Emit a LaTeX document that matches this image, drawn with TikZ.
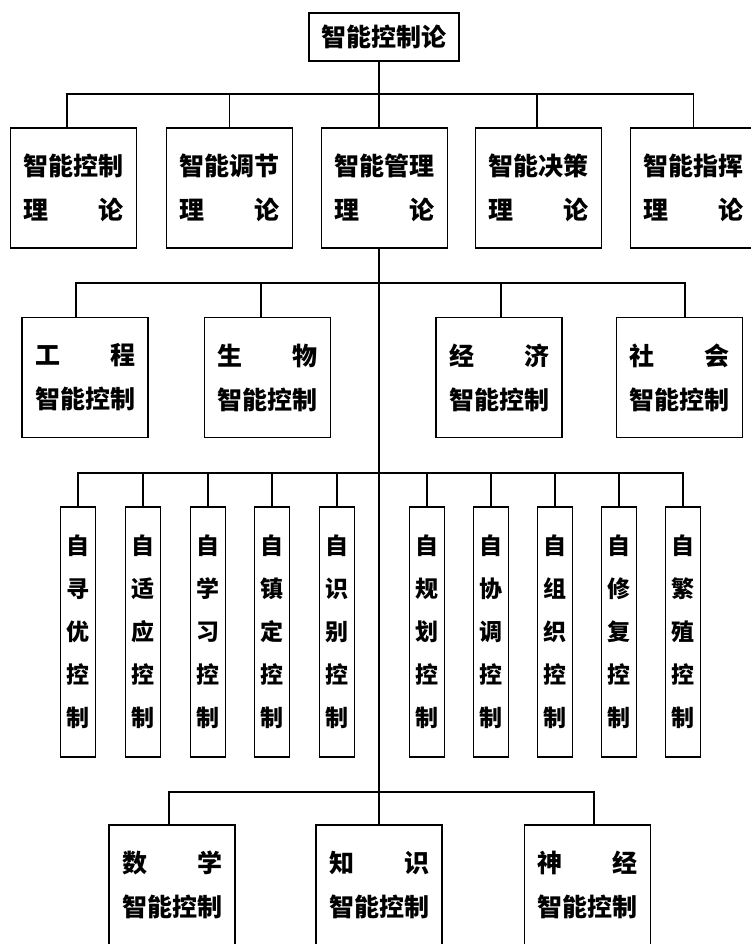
\documentclass[tikz,border=0pt]{standalone}
\usepackage{fontspec}
\newfontfamily\cjk{Noto Sans CJK SC}
\newcommand\spreadtwo[2]{\makebox[100pt]{#1\hfill#2}}
\begin{document}
\begin{tikzpicture}[x=1pt,y=-1pt,
  ln/.style={line width=1.5pt},
  rootbox/.style={draw,line width=1.5pt,inner sep=0pt,minimum width=150pt,minimum height=48pt,
    font=\cjk\bfseries\fontsize{25}{30}\selectfont},
  box/.style={draw,line width=1.5pt,inner sep=0pt,minimum width=126pt,minimum height=120pt,
    align=center,font=\cjk\bfseries\fontsize{25}{44}\selectfont},
  vbox/.style={draw,line width=1.5pt,inner sep=0pt,minimum width=35pt,minimum height=250pt,
    align=center,font=\cjk\bfseries\fontsize{23}{43}\selectfont}]
\useasboundingbox (0,0) rectangle (751,944);
\clip (0,0) rectangle (751,944);

% root
\node[rootbox] (root) at (384,37) {智能控制论};

% level 1
\node[box] (a1) at (73.5,188) {智能控制\\\spreadtwo{理}{论}};
\node[box] (a2) at (229.5,188) {智能调节\\\spreadtwo{理}{论}};
\node[box] (a3) at (384.5,188) {智能管理\\\spreadtwo{理}{论}};
\node[box] (a4) at (538.5,188) {智能决策\\\spreadtwo{理}{论}};
\node[box] (a5) at (693.5,188) {智能指挥\\\spreadtwo{理}{论}};

\coordinate (j1) at (379,94);
\coordinate (j2) at (379,283);
\coordinate (j3) at (379,473);
\coordinate (j4) at (379,792);

\draw[ln] ([xshift=-5pt]root.south) -- (j1);
\draw[ln] ([xshift=-6.5pt]a1.north) |- (j1);
\draw[ln] (a2.north) |- (j1);
\draw[ln] (j1) -- ([xshift=-5.5pt]a3.north);
\draw[ln] ([xshift=-1.5pt]a4.north) |- (j1);
\draw[ln] (a5.north) |- (j1);

% trunk
\draw[ln] ([xshift=-5.5pt]a3.south) -- (j4);

% level 2
\node[box] (c1) at (85,377.5) {\spreadtwo{工}{程}\\智能控制};
\node[box] (c2) at (267.5,377.5) {\spreadtwo{生}{物}\\智能控制};
\node[box] (c3) at (499,377.5) {\spreadtwo{经}{济}\\智能控制};
\node[box] (c4) at (679.5,377.5) {\spreadtwo{社}{会}\\智能控制};

\draw[ln] ([xshift=-9pt]c1.north) |- (j2);
\draw[ln] ([xshift=-6.5pt]c2.north) |- (j2);
\draw[ln] ([xshift=2pt]c3.north) |- (j2);
\draw[ln] ([xshift=5.5pt]c4.north) |- (j2);

% level 3
\node[vbox] (d1) at (78,632) {自\\寻\\优\\控\\制};
\node[vbox] (d2) at (143,632) {自\\适\\应\\控\\制};
\node[vbox] (d3) at (208,632) {自\\学\\习\\控\\制};
\node[vbox] (d4) at (272,632) {自\\镇\\定\\控\\制};
\node[vbox] (d5) at (337,632) {自\\识\\别\\控\\制};
\node[vbox] (d6) at (427,632) {自\\规\\划\\控\\制};
\node[vbox] (d7) at (491,632) {自\\协\\调\\控\\制};
\node[vbox] (d8) at (555,632) {自\\组\\织\\控\\制};
\node[vbox] (d9) at (619,632) {自\\修\\复\\控\\制};
\node[vbox] (d10) at (683,632) {自\\繁\\殖\\控\\制};

\foreach \k in {1,...,10} {
  \draw[ln] (d\k.north) |- (j3);
}

% level 4
\node[box] (e1) at (172,885) {\spreadtwo{数}{学}\\智能控制};
\node[box] (e2) at (379,885) {\spreadtwo{知}{识}\\智能控制};
\node[box] (e3) at (587.5,885) {\spreadtwo{神}{经}\\智能控制};

\draw[ln] ([xshift=-3pt]e1.north) |- (j4);
\draw[ln] (j4) -- (e2.north);
\draw[ln] ([xshift=6.5pt]e3.north) |- (j4);
\end{tikzpicture}
\end{document}
